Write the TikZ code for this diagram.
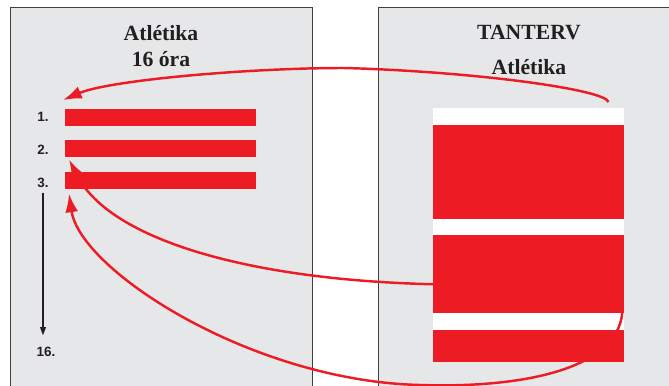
\documentclass[tikz,border=0pt]{standalone}
\usepackage{fontspec}
\setmainfont{Liberation Serif}
\setsansfont{Liberation Sans}
\usepackage{tikz}
\usetikzlibrary{arrows.meta, positioning, calc, backgrounds}
\definecolor{planred}{RGB}{237, 28, 36}
\definecolor{panelgray}{RGB}{230, 231, 232}
\definecolor{darkink}{RGB}{35, 31, 32}
\definecolor{edgegray}{RGB}{64, 64, 66}

\begin{document}
\begin{tikzpicture}[
    x=0.03cm, y=-0.03cm,
    >=Stealth,
    panel/.style={
        rectangle, draw=edgegray, fill=panelgray,
        line width=0.7pt, inner sep=0pt, anchor=north west,
        minimum width=#1, minimum height=12cm
    },
    heading/.style={
        font=\fontsize{18.5}{22}\selectfont\bfseries,
        text=darkink, align=center, inner sep=0pt
    },
    lesson/.style={
        rectangle, fill=planred, inner sep=0pt, anchor=north west,
        minimum width=5.73cm, minimum height=0.51cm
    },
    number/.style={
        font=\fontsize{11.5}{13}\selectfont\sffamily\bfseries,
        text=darkink, inner sep=1pt
    },
    block/.style={
        rectangle, fill=#1, inner sep=0pt, anchor=north west,
        minimum width=5.73cm
    },
    link/.style={line width=2.1pt, draw=planred, rounded corners=2pt,
        -{Latex[length=16pt,width=11pt]}}
]
\useasboundingbox (0,0) rectangle (669,385);

% ==============================================================================
% LEFT: 16 LESSONS
% ==============================================================================
\node[heading] (lefttitle) at (161,46) {Atlétika\\16 óra};

\node[lesson] (lesson1) at (65,109) {};
\node[lesson] (lesson2) at (65,140) {};
\node[lesson] (lesson3) at (65,172) {};

\node[number] (num1) at (43,117) {1.};
\node[number] (num2) at (43,150) {2.};
\node[number] (num3) at (43,183) {3.};
\node[number] (num16) at (46,352) {16.};

\draw[-{Triangle[length=7pt,width=5pt]}, line width=0.9pt, draw=darkink, fill=darkink,
    shorten <=3pt, shorten >=9pt] (num3.south) -- (num3.south |- num16.north);

% ==============================================================================
% RIGHT: CURRICULUM
% ==============================================================================
\node[heading] (righttitle) at (529,50) {TANTERV\\[8pt]Atlétika};

\node[block=planred, minimum height=2.82cm] (seg1) at (433,125) {};
\node[block=planred, minimum height=2.34cm] (seg2) at (433,235) {};
\node[block=planred, minimum height=0.96cm] (seg3) at (433,330) {};

\begin{scope}[on background layer]
    \node[panel=9.06cm] (leftpanel) at (10,7) {};
    \node[panel=9.6cm] (rightpanel) at (378,7) {};
    \node[block=white, minimum height=7.62cm] (plan) at (433,108) {};

    % links from the curriculum to the lessons
    \draw[link] ([xshift=-0.48cm,yshift=0.18cm]plan.north east)
        .. controls (606,90) and (480,72) .. (345,68)
        .. controls (250,68) and (110,80) .. ([xshift=-0.06cm,yshift=0.27cm]lesson1.north west);
    \draw[link] ([yshift=-0.3cm]seg2.west)
        .. controls (250,280) and (110,240) .. ([xshift=0.12cm,yshift=-0.06cm]lesson2.south west);
    \draw[link] ([xshift=-0.06cm,yshift=0.24cm]seg2.south east)
        .. controls (625,370) and (520,388) .. (420,385)
        .. controls (250,380) and (80,270) .. ([xshift=0.12cm,yshift=-0.12cm]lesson3.south west);
\end{scope}

\end{tikzpicture}
\end{document}
